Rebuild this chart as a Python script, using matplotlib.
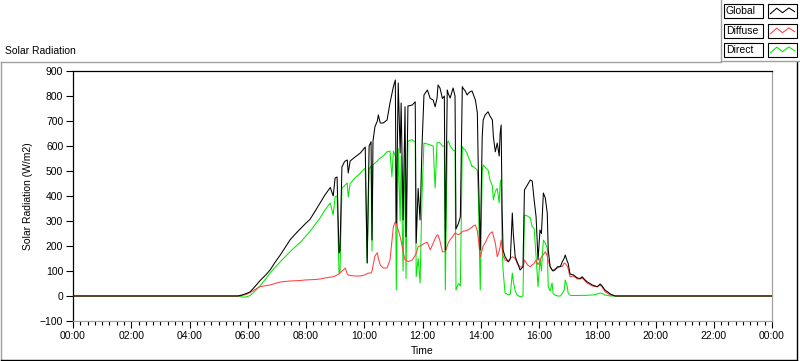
import matplotlib
matplotlib.use("Agg")
import matplotlib.pyplot as plt
from matplotlib.lines import Line2D
from matplotlib.patches import Rectangle
from matplotlib.ticker import MultipleLocator, FuncFormatter

# minutes since midnight
minutes = [
    0, 340, 348, 357, 365, 375, 385, 396, 406, 416, 427, 437, 447, 458, 468,
    478, 488, 499, 509, 519, 530, 536, 540, 544, 548, 550, 554, 559, 561, 565,
    567, 571, 581, 592, 602,
    606, 610, 614, 616, 618, 622, 627, 629, 633, 639, 647, 653, 657, 660, 664,
    666, 670, 674, 676, 680, 684, 686, 690, 699, 705, 707, 711, 715, 719, 723,
    730, 736, 742, 746, 750, 752, 756, 761, 765, 767, 771, 773, 777, 783, 787,
    789, 794, 798, 802, 804, 808, 812, 814, 818, 822, 824, 829, 833, 835, 839,
    843, 845, 849, 855, 859, 864, 866, 870, 874, 878, 880, 882, 884, 886, 890,
    897, 901, 905, 907, 911, 915, 921, 927, 930, 936, 942, 946, 950, 954, 958,
    962, 965, 969, 973, 977, 979, 983, 987, 989, 993, 998, 1004, 1008, 1012, 1014,
    1018, 1020, 1024, 1031, 1039, 1045, 1049, 1053, 1059, 1070, 1080, 1086, 1090, 1096, 1107,
    1117, 1440,
]

global_rad = [
    0, 0, 4, 10, 17, 38, 61, 82, 104, 134, 164, 194, 224, 248, 268,
    288, 306, 340, 372, 404, 434, 400, 472, 476, 172, 180, 516, 536, 540, 544,
    492, 540, 556, 572, 596,
    132, 600, 617, 224, 620, 677, 700, 724, 692, 692, 704, 772, 810, 837, 864,
    292, 852, 572, 772, 304, 757, 237, 760, 764, 777, 212, 430, 304, 600, 804,
    824, 790, 784, 757, 792, 844, 832, 790, 800, 184, 824, 810, 792, 832, 800,
    268, 290, 317, 837, 830, 820, 804, 810, 817, 820, 810, 784, 732, 504, 184,
    637, 704, 724, 737, 720, 704, 637, 577, 612, 560, 652, 684, 344, 184, 157,
    137, 150, 332, 250, 157, 137, 104, 117, 424, 444, 464, 460, 384, 317, 144,
    264, 250, 412, 392, 332, 184, 117, 104, 100, 104, 117, 117, 137, 151, 164,
    140, 131, 88, 84, 72, 70, 77, 68, 57, 44, 37, 48, 40, 24, 8,
    0, 0,
]

diffuse_rad = [
    0, 0, 2, 6, 14, 26, 37, 41, 44, 50, 56, 58, 60, 61, 62,
    64, 65, 66, 68, 72, 75, 77, 80, 84, 88, 92, 100, 108, 112, 88,
    84, 82, 80, 80, 85,
    90, 92, 92, 100, 120, 160, 173, 150, 124, 112, 112, 144, 220, 277, 297,
    290, 264, 237, 220, 177, 144, 144, 137, 144, 164, 170, 197, 200, 204, 210,
    215, 184, 212, 230, 244, 244, 220, 177, 177, 177, 200, 212, 225, 240, 252,
    250, 245, 250, 257, 260, 260, 264, 264, 270, 275, 280, 284, 260, 230, 157,
    185, 200, 212, 237, 250, 257, 240, 212, 157, 180, 197, 224, 200, 160, 144,
    137, 150, 157, 155, 150, 130, 117, 115, 144, 125, 117, 125, 130, 144, 125,
    140, 157, 165, 177, 160, 140, 117, 104, 104, 108, 112, 120, 118, 132, 130,
    120, 110, 77, 80, 68, 68, 72, 64, 52, 40, 37, 44, 36, 17, 4,
    0, 0,
]

direct_rad = [
    0, 0, -4, -4, 2, 20, 40, 66, 92, 114, 137, 157, 177, 197, 214,
    236, 258, 286, 312, 344, 372, 324, 396, 400, 93, 95, 432, 440, 445, 452,
    396, 450, 472, 492, 512,
    132, 508, 520, 180, 525, 532, 540, 545, 552, 560, 577, 580, 477, 580, 560,
    24, 590, 300, 560, 100, 617, 70, 620, 625, 615, 77, 150, 52, 400, 612,
    608, 604, 600, 432, 612, 615, 612, 600, 600, 24, 612, 620, 600, 584, 580,
    24, 50, 40, 597, 590, 584, 570, 557, 540, 517, 520, 510, 504, 400, 24,
    500, 524, 515, 504, 464, 440, 384, 420, 430, 372, 450, 464, 200, 104, 12,
    4, 8, 92, 60, 20, 4, -3, 0, 324, 320, 312, 277, 270, 157, 37,
    150, 100, 224, 212, 190, 37, 20, 52, 10, 4, 0, 0, 10, 24, 64,
    40, 12, 3, 2, 2, 2, 3, 2, 3, 4, 8, 12, 10, 4, 0,
    0, 0,
]

series_names = ["Global", "Diffuse", "Direct"]
series_colors = ["#000000", "#ff4040", "#00e800"]

W, H = 800, 361
FONT = "Liberation Sans"
FS = 7.5
plt.rcParams["font.family"] = [FONT, "DejaVu Sans"]


def fx(x):
    return x / W


def fy(y):
    return 1 - y / H


fig = plt.figure(figsize=(W / 100, H / 100), dpi=100)
fig.patch.set_facecolor("white")

ax = fig.add_axes([fx(73), fy(321), 699 / W, 250 / H])
hours = [m / 60 for m in minutes]
data = [global_rad, diffuse_rad, direct_rad]
# draw Direct first, Global last (on top)
for idx in (2, 1, 0):
    ax.plot(hours, data[idx], color=series_colors[idx], linewidth=0.75,
            zorder=2 + (2 - idx))

ax.set_xlim(0, 24)
ax.set_ylim(-100, 900)
ax.xaxis.set_major_locator(MultipleLocator(2))
ax.xaxis.set_minor_locator(MultipleLocator(0.25))
ax.xaxis.set_major_formatter(FuncFormatter(lambda v, p: "%02d:00" % (int(round(v)) % 24)))
ax.yaxis.set_major_locator(MultipleLocator(100))
ax.tick_params(axis="both", which="major", direction="out", length=5, width=0.8,
               labelsize=FS, pad=2, color="black")
ax.tick_params(axis="x", which="minor", direction="out", length=3, width=0.8)

for side in ("left", "top"):
    ax.spines[side].set_color("black")
    ax.spines[side].set_linewidth(0.9)
for side in ("right", "bottom"):
    ax.spines[side].set_color("#a0a0a0")
    ax.spines[side].set_linewidth(0.9)

ax.set_ylabel("Solar Radiation (W/m2)", fontsize=FS)
ax.yaxis.set_label_coords((33 - 73) / 699, 0.5)
ax.set_xlabel("Time", fontsize=FS)
ax.xaxis.set_label_coords(0.5, (321 - 346) / 250)

fig.text(fx(5), fy(51), "Solar Radiation", fontsize=FS, ha="left", va="center")

# outer panel frame
gray = "#a0a0a0"
fig.add_artist(Line2D([fx(0.5), fx(0.5)], [fy(62), fy(360)], color=gray, lw=1))
fig.add_artist(Line2D([fx(0.5), fx(721)], [fy(62), fy(62)], color=gray, lw=1))
fig.add_artist(Line2D([fx(0.5), fx(797)], [fy(360), fy(360)], color="black", lw=1))
fig.add_artist(Line2D([fx(797), fx(797)], [fy(62), fy(360)], color="black", lw=1))
# legend panel frame
fig.add_artist(Line2D([fx(721), fx(721)], [fy(0), fy(61)], color=gray, lw=1))
fig.add_artist(Line2D([fx(721), fx(800)], [fy(61), fy(61)], color=gray, lw=1))

# legend rows
row_tops = [4, 24, 43]
zig_x = [0.08, 0.3, 0.5, 0.72, 0.92]
zig_y = [0.7, 0.3, 0.62, 0.28, 0.55]
for name, color, top in zip(series_names, series_colors, row_tops):
    fig.add_artist(Rectangle((fx(724), fy(top + 14)), 39 / W, 14 / H,
                             transform=fig.transFigure, facecolor="white",
                             edgecolor="black", lw=0.8))
    fig.text(fx(726), fy(top + 7), name, fontsize=FS, ha="left", va="center")
    fig.add_artist(Rectangle((fx(768), fy(top + 14)), 29 / W, 14 / H,
                             transform=fig.transFigure, facecolor="white",
                             edgecolor="black", lw=0.8))
    xs = [fx(768 + 29 * f) for f in zig_x]
    ys = [fy(top + 14 * f) for f in zig_y]
    fig.add_artist(Line2D(xs, ys, color=color, lw=0.75))

fig.savefig("out.png", dpi=100, facecolor="white")
